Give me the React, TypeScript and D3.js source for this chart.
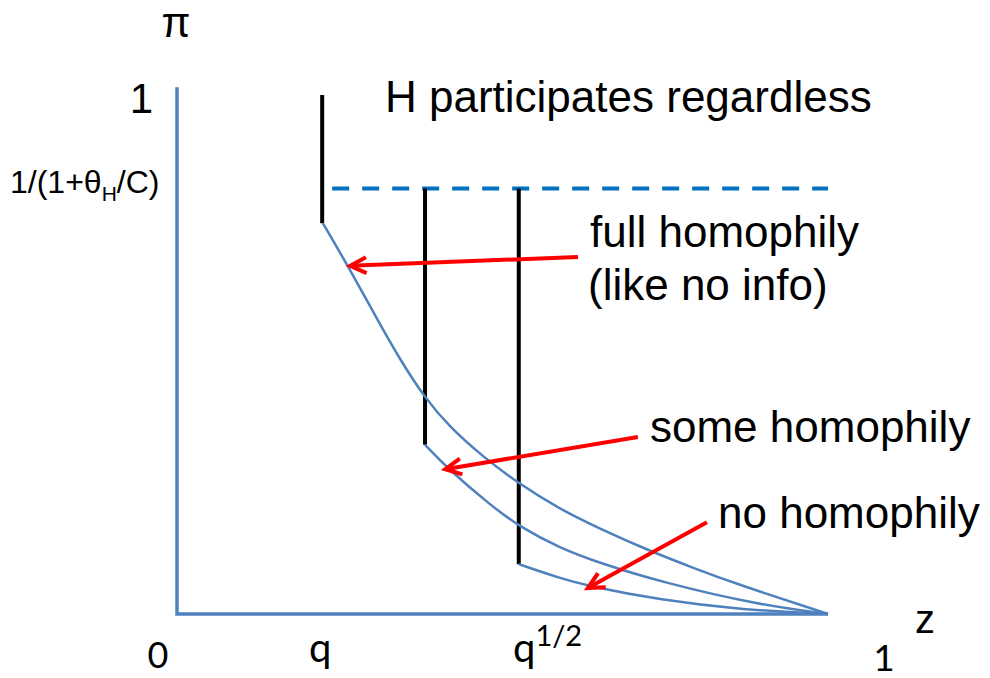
import React, { useRef, useEffect } from 'react';
import * as d3 from 'd3';

// z on the x axis, pi on the y axis (both 0..1)
const Z_Q = 0.223;
const Z_MID = 0.381;
const Z_SQRTQ = 0.525;
const PI_H = 0.82;
const PI_TOP = 1.0;

const fullHomophily: [number, number][] = [
  [0.224, 0.753], [0.266, 0.663], [0.304, 0.576], [0.343, 0.489], [0.381, 0.416],
  [0.419, 0.36], [0.469, 0.304], [0.524, 0.252], [0.588, 0.202], [0.65, 0.164],
  [0.727, 0.121], [0.793, 0.089], [0.854, 0.06], [1, 0],
];
const someHomophily: [number, number][] = [
  [0.381, 0.326], [0.415, 0.281], [0.485, 0.206], [0.527, 0.168], [0.588, 0.127],
  [0.65, 0.098], [0.742, 0.062], [0.896, 0.017], [1, 0],
];
const noHomophily: [number, number][] = [
  [0.525, 0.096], [0.588, 0.069], [0.631, 0.054], [0.742, 0.027], [0.869, 0.008], [1, 0],
];

// arrows: [fromZ, fromPi, toZ, toPi]
const arrows: [number, number, number, number][] = [
  [0.616, 0.688, 0.266, 0.671],
  [0.708, 0.341, 0.412, 0.279],
  [0.814, 0.177, 0.631, 0.05],
];

const AXIS_BLUE = '#4f81bd';
const SANS = '"Liberation Sans", Arial, sans-serif';
const TICK_FONT = 'Lato, "Open Sans", sans-serif';

const App = () => {
  const svgRef = useRef<SVGSVGElement>(null);
  const width = 990;
  const height = 678;

  useEffect(() => {
    const svg = d3.select(svgRef.current);
    svg.selectAll('*').remove();

    const x = d3.scaleLinear().domain([0, 1]).range([177, 828]);
    const y = d3.scaleLinear().domain([0, 1]).range([614, 95]);

    // axes
    svg.append('path')
      .attr('d', `M${x(0)},${y(1.015)} L${x(0)},${y(0)} L${x(1)},${y(0)}`)
      .attr('fill', 'none')
      .attr('stroke', AXIS_BLUE)
      .attr('stroke-width', 3.5);

    // dashed threshold line
    svg.append('line')
      .attr('x1', x(Z_Q) + 10).attr('x2', x(1))
      .attr('y1', y(PI_H)).attr('y2', y(PI_H))
      .attr('stroke', '#0070c0')
      .attr('stroke-width', 4)
      .attr('stroke-dasharray', '17 13');

    // vertical black lines
    const verticals: [number, number, number][] = [
      [Z_Q, PI_TOP, fullHomophily[0][1]],
      [Z_MID, PI_H, someHomophily[0][1]],
      [Z_SQRTQ, PI_H, noHomophily[0][1]],
    ];
    svg.selectAll('.vline')
      .data(verticals)
      .enter()
      .append('line')
      .attr('class', 'vline')
      .attr('x1', d => x(d[0])).attr('x2', d => x(d[0]))
      .attr('y1', d => y(d[1])).attr('y2', d => y(d[2]))
      .attr('stroke', '#000')
      .attr('stroke-width', 4);

    // curves
    const line = d3.line<[number, number]>()
      .x(d => x(d[0]))
      .y(d => y(d[1]))
      .curve(d3.curveBasis);

    svg.selectAll('.curve')
      .data([fullHomophily, someHomophily, noHomophily])
      .enter()
      .append('path')
      .attr('class', 'curve')
      .attr('d', d => line(d))
      .attr('fill', 'none')
      .attr('stroke', AXIS_BLUE)
      .attr('stroke-width', 2.5);

    // red arrows
    arrows.forEach(a => {
      const x1 = x(a[0]), y1 = y(a[1]), x2 = x(a[2]), y2 = y(a[3]);
      const ang = Math.atan2(y1 - y2, x1 - x2);
      const len = 18, spread = 0.46;
      const p1 = [x2 + len * Math.cos(ang + spread), y2 + len * Math.sin(ang + spread)];
      const p2 = [x2 + len * Math.cos(ang - spread), y2 + len * Math.sin(ang - spread)];
      svg.append('line')
        .attr('x1', x1).attr('y1', y1).attr('x2', x2).attr('y2', y2)
        .attr('stroke', '#ff0000').attr('stroke-width', 4);
      svg.append('path')
        .attr('d', `M${p1[0]},${p1[1]} L${x2},${y2} L${p2[0]},${p2[1]}`)
        .attr('fill', 'none')
        .attr('stroke', '#ff0000')
        .attr('stroke-width', 4)
        .attr('stroke-linejoin', 'miter');
    });

    // labels
    const txt = (t: string, tx: number, ty: number, size: number, anchor = 'start', font = SANS) =>
      svg.append('text')
        .attr('x', tx).attr('y', ty)
        .attr('font-family', font)
        .attr('font-size', size)
        .attr('text-anchor', anchor)
        .attr('fill', '#000')
        .text(t);

    txt('\u03c0', 176, 37, 42, 'middle');
    txt('1', 153, 113, 42, 'end');

    const thr = svg.append('text')
      .attr('x', 10).attr('y', y(PI_H) + 5)
      .attr('font-family', SANS)
      .attr('font-size', 32)
      .attr('fill', '#000');
    thr.append('tspan').text('1/(1+\u03b8');
    thr.append('tspan').attr('dy', 8).attr('font-size', 21).text('H');
    thr.append('tspan').attr('dy', -8).text('/C)');

    txt('H participates regardless', 385, 112, 44);
    txt('full homophily', 590, 247, 44);
    txt('(like no info)', 588, 300, 44);
    txt('some homophily', 650, 442, 44);
    txt('no homophily', 718, 528, 44);
    txt('z', 915, 633, 40);

    // tick labels
    txt('0', 158, 668, 36, 'middle', TICK_FONT);
    txt('q', x(Z_Q) - 2, 662, 40, 'middle', TICK_FONT);
    const sq = svg.append('text')
      .attr('x', 513).attr('y', 662)
      .attr('font-family', TICK_FONT)
      .attr('font-size', 40)
      .attr('fill', '#000');
    sq.append('tspan').text('q');
    sq.append('tspan').attr('dy', -16).attr('font-size', 29).text('1/2');
    txt('1', 884, 671, 37, 'middle', TICK_FONT);
  }, []);

  return (
    <svg
      ref={svgRef}
      width={width}
      height={height}
      style={{ position: 'absolute', left: 0, top: 0, background: '#fff' }}
    />
  );
};

export default App;
